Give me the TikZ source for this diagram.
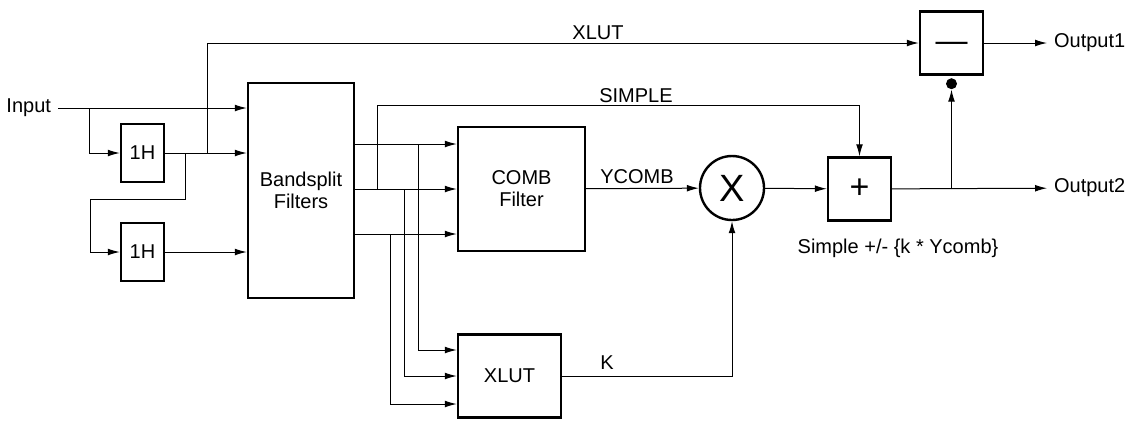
\documentclass[tikz,border=0pt]{standalone}
\usepackage{fontspec}
\setmainfont{Liberation Sans}
\usepackage{tikz}
\usetikzlibrary{arrows.meta,calc}

\begin{document}
\begin{tikzpicture}[x=0.5pt, y=-0.5pt, >={Latex[length=6pt,width=3.4pt]},
  blk/.style={draw, line width=1.2pt, align=center, font=\fontsize{10}{11}\selectfont},
  lbl/.style={font=\fontsize{10}{12}\selectfont},
  wire/.style={line width=0.5pt}]
\useasboundingbox (0,0) rectangle (1130,420);

\node [lbl, anchor=east] (in) at (58,108) {Input};
\node [blk, minimum width=21.5pt, minimum height=29pt] (h1) at (142.5,153) {1H};
\node [blk, minimum width=21.5pt, minimum height=29pt] (h2) at (142.5,252) {1H};
\node [blk, minimum width=53pt, minimum height=107.5pt] (bsf) at (301,190.5) {Bandsplit\\Filters};
\node [blk, minimum width=63.5pt, minimum height=62pt] (comb) at (521.5,189) {COMB\\Filter};
\node [blk, minimum width=51.5pt, minimum height=41.5pt] (xlut) at (509.5,376) {XLUT};
\node [blk, circle, minimum size=32pt, inner sep=0pt, font=\fontsize{19}{20}\selectfont] (mul) at (732,188) {X};
\node [blk, minimum size=31.5pt, inner sep=0pt, font=\fontsize{17}{18}\selectfont] (add) at (859.5,189) {+};
\node [blk, minimum size=31.5pt, inner sep=0pt, text height=8.9pt, text depth=0pt, font=\fontsize{16}{17}\selectfont] (sub) at (951.5,43) {—};
\node [circle, fill, inner sep=0pt, minimum size=5.5pt] (dot) at ($(sub.south)+(0,8)$) {};
\node [lbl, anchor=west] (out1) at (1047,43) {Output1};
\node [lbl, anchor=west] (out2) at (1047,188) {Output2};

\coordinate (b1) at (89,108);
\coordinate (b2) at (185,153);
\coordinate (b3) at (207,153);
\coordinate (c1) at ($(comb.west)+(0,-45)$);
\coordinate (c2) at (comb.west);
\coordinate (c3) at ($(comb.west)+(0,45)$);
\coordinate (t1) at ($(bsf.east |- c1)+(63,0)$);
\coordinate (t2) at ($(bsf.east |- c2)+(49,0)$);
\coordinate (t3) at ($(bsf.east |- c3)+(35,0)$);
\coordinate (x1) at ($(xlut.west)+(0,-26)$);
\coordinate (x2) at (xlut.west);
\coordinate (x3) at ($(xlut.west)+(0,28)$);
\coordinate (s0) at ($(bsf.east |- c2)+(22,0)$);
\coordinate (b4) at (dot |- add);

\draw [->,wire] (in) -- (in -| bsf.west);
\draw [->,wire] (b1) |- (h1);
\draw [->,wire] (h1) -- (h1 -| bsf.west);
\draw [->,wire] (b2) -- ++(0,46) -- ++(-95,0) |- (h2);
\draw [->,wire] (h2) -- (h2 -| bsf.west);
\draw [->,wire] (b3) |- (sub);

\foreach \c in {c1,c2,c3} \draw [->,wire] (bsf.east |- \c) -- (\c);
\draw [->,wire] (t1) |- (x1);
\draw [->,wire] (t2) |- (x2);
\draw [->,wire] (t3) |- (x3);

\draw [->,wire] (s0) -- ++(0,-84) -| (add.north);
\draw [->,wire] (comb) -- (mul);
\draw [->,wire] (xlut) -| (mul);
\draw [->,wire] (mul) -- (add);
\draw [->,wire] (add) -- (out2);
\draw [->,wire] (b4) -- (dot);
\draw [->,wire] (sub) -- (out1);

\node [lbl] (lxlut) at (598,33) {XLUT};
\node [lbl] (lsimple) at (636,96) {SIMPLE};
\node [lbl] (lycomb) at (637,177) {YCOMB};
\node [lbl] (lk) at (607,363) {K};
\node [lbl] (lres) at (898,248) {Simple +/- \{k * Ycomb\}};
\end{tikzpicture}
\end{document}
